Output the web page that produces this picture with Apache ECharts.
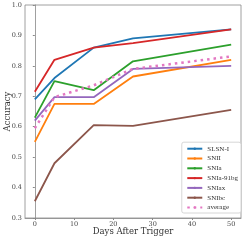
<!DOCTYPE html>
<html><head><meta charset="utf-8">
<script src="https://cdn.jsdelivr.net/npm/echarts@6/dist/echarts.min.js"></script>
<style>html,body{margin:0;padding:0;background:#fff}#c{width:245px;height:240px}</style>
</head><body><div id="c"></div>
<script>
const days = [0, 5, 15, 25, 50];
const xTicks = [0, 10, 20, 30, 40, 50];
const yTicks = [0.3, 0.4, 0.5, 0.6, 0.7, 0.8, 0.9, 1.0];
const names = ['SLSN-I', 'SNII', 'SNIa', 'SNIa-91bg', 'SNIax', 'SNIbc', 'average'];
const slsn = [0.69, 0.76, 0.86, 0.89, 0.92];
const snii = [0.55, 0.675, 0.675, 0.765, 0.82];
const snia = [0.63, 0.75, 0.72, 0.815, 0.87];
const snia91bg = [0.715, 0.82, 0.86, 0.875, 0.92];
const sniax = [0.62, 0.697, 0.697, 0.79, 0.80];
const snibc = [0.355, 0.48, 0.605, 0.603, 0.655];
const average = [0.595, 0.697, 0.736, 0.79, 0.831];
const colors = ['#1f77b4', '#ff7f0e', '#2ca02c', '#d62728', '#9467bd', '#8c564b', '#e377c2'];
const values = [slsn, snii, snia, snia91bg, sniax, snibc, average];

const font = 'DejaVu Serif';
const series = values.map((v, i) => ({
  name: names[i], type: 'line', symbol: 'none',
  data: v.map((y, j) => [days[j], y]),
  lineStyle: { color: colors[i], width: i === 6 ? 2.5 : 1.8, type: i === 6 ? [2.5, 4] : 'solid' },
  itemStyle: { color: colors[i] },
  z: i === 6 ? 3 : 2
}));
const chart = echarts.init(document.getElementById('c'), null, { renderer: 'canvas' });
chart.setOption({
  animation: false,
  textStyle: { fontFamily: font },
  grid: { left: 25, right: 4, top: 5, bottom: 22, containLabel: false, outerBoundsMode: 'none',
    show: true, borderColor: '#888', borderWidth: 0.8, backgroundColor: 'transparent' },
  xAxis: {
    type: 'value', min: -2.5, max: 52.5,
    name: 'Days After Trigger', nameLocation: 'middle', nameGap: 9, nameMoveOverlap: false,
    nameTextStyle: { fontFamily: font, fontSize: 8.5, color: '#333' },
    axisLine: { show: true, onZero: false, lineStyle: { color: '#888', width: 0.8 } },
    axisTick: { show: true, customValues: xTicks, length: 2, lineStyle: { color: '#888' } },
    axisLabel: { customValues: xTicks, fontFamily: font, fontSize: 6.5, color: '#444', margin: 3 },
    splitLine: { show: false }
  },
  yAxis: {
    type: 'value', min: 0.3, max: 1.0,
    name: 'Accuracy', nameLocation: 'middle', nameGap: 13, nameRotate: 90, nameMoveOverlap: false,
    nameTextStyle: { fontFamily: font, fontSize: 8.5, color: '#333' },
    axisLine: { show: true, lineStyle: { color: '#888', width: 0.8 } },
    axisTick: { show: true, customValues: yTicks, length: 2, lineStyle: { color: '#888' } },
    axisLabel: { customValues: yTicks, fontFamily: font, fontSize: 6.5, color: '#444', margin: 3,
      formatter: v => v.toFixed(1) },
    splitLine: { show: false }
  },
  legend: {
    data: names, orient: 'vertical', right: 4, bottom: 27,
    itemWidth: 15, itemHeight: 3, itemGap: 2.8,
    padding: [3, 3, 2, 4.5],
    backgroundColor: '#fff', borderColor: '#ccc', borderWidth: 0.8, borderRadius: 2,
    textStyle: { fontFamily: 'Liberation Serif', fontSize: 7, lineHeight: 7, color: '#333', padding: [0, 0, 0, 0] }
  },
  series
});
</script></body></html>
